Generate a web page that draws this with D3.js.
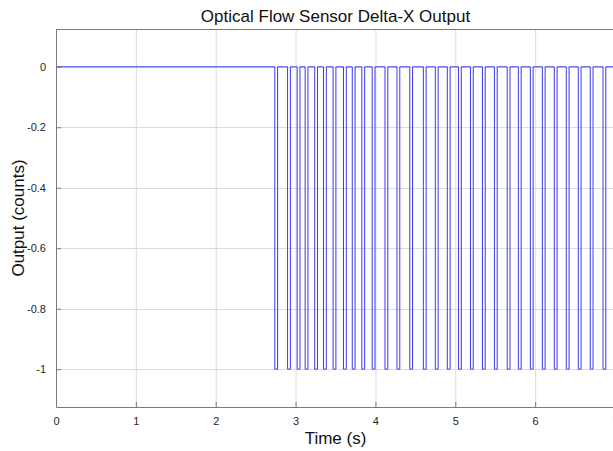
<!DOCTYPE html>
<html>
<head>
<meta charset="utf-8">
<script src="https://cdn.jsdelivr.net/npm/d3@7"></script>
<style>
  body { margin: 0; background: #fff; }
  svg { display: block; font-family: "Liberation Sans", Arial, Helvetica, sans-serif; }
  .grid line { stroke: #dcdcdc; stroke-width: 1; }
  .tick text { fill: #262626; font-size: 11px; }
</style>
</head>
<body>
<div id="chart"></div>
<script>
// pulse falling / rising edges (seconds)
const pulseStart = [2.74, 2.90, 3.02, 3.12, 3.24, 3.35, 3.47, 3.60, 3.71, 3.83,
  3.96, 4.12, 4.27, 4.43, 4.60, 4.75, 4.90, 5.04, 5.19, 5.34,
  5.49, 5.65, 5.79, 5.94, 6.09, 6.24, 6.39, 6.54, 6.69, 6.85, 6.99];
const pulseEnd = [2.775, 2.935, 3.055, 3.155, 3.275, 3.385, 3.505, 3.635, 3.745, 3.865,
  3.995, 4.155, 4.305, 4.465, 4.635, 4.785, 4.935, 5.075, 5.225, 5.375,
  5.525, 5.685, 5.825, 5.975, 6.125, 6.275, 6.425, 6.575, 6.725, 6.885, 7.025];
const pulseLow = -1;
const baseLevel = 0;
const tEnd = 7.2;

const xTicks = [0, 1, 2, 3, 4, 5, 6, 7];
const yTicks = [0, -0.2, -0.4, -0.6, -0.8, -1];
const yTickLabels = ['0', '-0.2', '-0.4', '-0.6', '-0.8', '-1'];

const width = 613, height = 451;
const margin = {top: 29, right: -2, bottom: 44, left: 56};
const plotW = width - margin.left - margin.right;
const plotH = height - margin.top - margin.bottom;

const svg = d3.select('#chart').append('svg')
  .attr('width', width)
  .attr('height', height);

const x = d3.scaleLinear().domain([0, 7]).range([0, plotW]);
const y = d3.scaleLinear().domain([-1.125, 0.125]).range([plotH, 0]);

const g = svg.append('g')
  .attr('transform', 'translate(' + margin.left + ',' + margin.top + ')');

// grid
g.append('g').attr('class', 'grid')
  .selectAll('line.vx').data(xTicks).enter().append('line')
  .attr('x1', d => x(d) + 0.5).attr('x2', d => x(d) + 0.5)
  .attr('y1', 0).attr('y2', plotH);
g.append('g').attr('class', 'grid')
  .selectAll('line.hy').data(yTicks).enter().append('line')
  .attr('y1', d => Math.round(y(d)) + 0.5).attr('y2', d => Math.round(y(d)) + 0.5)
  .attr('x1', 0).attr('x2', plotW);

// build step signal from pulse edges
let pts = [[0, baseLevel]];
pulseStart.forEach(function(s, i) {
  pts.push([s, baseLevel], [s, pulseLow], [pulseEnd[i], pulseLow], [pulseEnd[i], baseLevel]);
});
pts.push([tEnd, baseLevel]);

g.append('path')
  .datum(pts)
  .attr('fill', 'none')
  .attr('stroke', '#3a3aee')
  .attr('stroke-width', 1)
  .attr('d', d3.line().x(d => x(d[0])).y(d => y(d[1])));

// axes
const xAxis = g.append('g')
  .attr('transform', 'translate(0,' + plotH + ')')
  .call(d3.axisBottom(x).tickValues(xTicks).tickSizeInner(-5).tickSizeOuter(0).tickPadding(10)
    .tickFormat(d3.format('d')));
const yAxis = g.append('g')
  .call(d3.axisLeft(y).tickValues(yTicks).tickSizeInner(-5).tickSizeOuter(0).tickPadding(10)
    .tickFormat((d, i) => yTickLabels[i]));
[xAxis, yAxis].forEach(function(a) {
  a.select('.domain').attr('stroke', '#7a7a7a');
  a.selectAll('.tick line').attr('stroke', '#7a7a7a');
});

// top border
g.append('line')
  .attr('x1', 0).attr('x2', plotW)
  .attr('y1', 0.5).attr('y2', 0.5)
  .attr('stroke', '#7a7a7a');

// title & labels
svg.append('text')
  .attr('x', margin.left + plotW / 2)
  .attr('y', 22)
  .attr('text-anchor', 'middle')
  .style('font-size', '17px')
  .style('fill', '#111')
  .text('Optical Flow Sensor Delta-X Output');

svg.append('text')
  .attr('x', margin.left + plotW / 2)
  .attr('y', 444)
  .attr('text-anchor', 'middle')
  .style('font-size', '17px')
  .style('fill', '#111')
  .text('Time (s)');

svg.append('text')
  .attr('transform', 'translate(24,' + (margin.top + y(-0.5)) + ') rotate(-90)')
  .attr('text-anchor', 'middle')
  .style('font-size', '17px')
  .style('fill', '#111')
  .text('Output (counts)');
</script>
</body>
</html>
